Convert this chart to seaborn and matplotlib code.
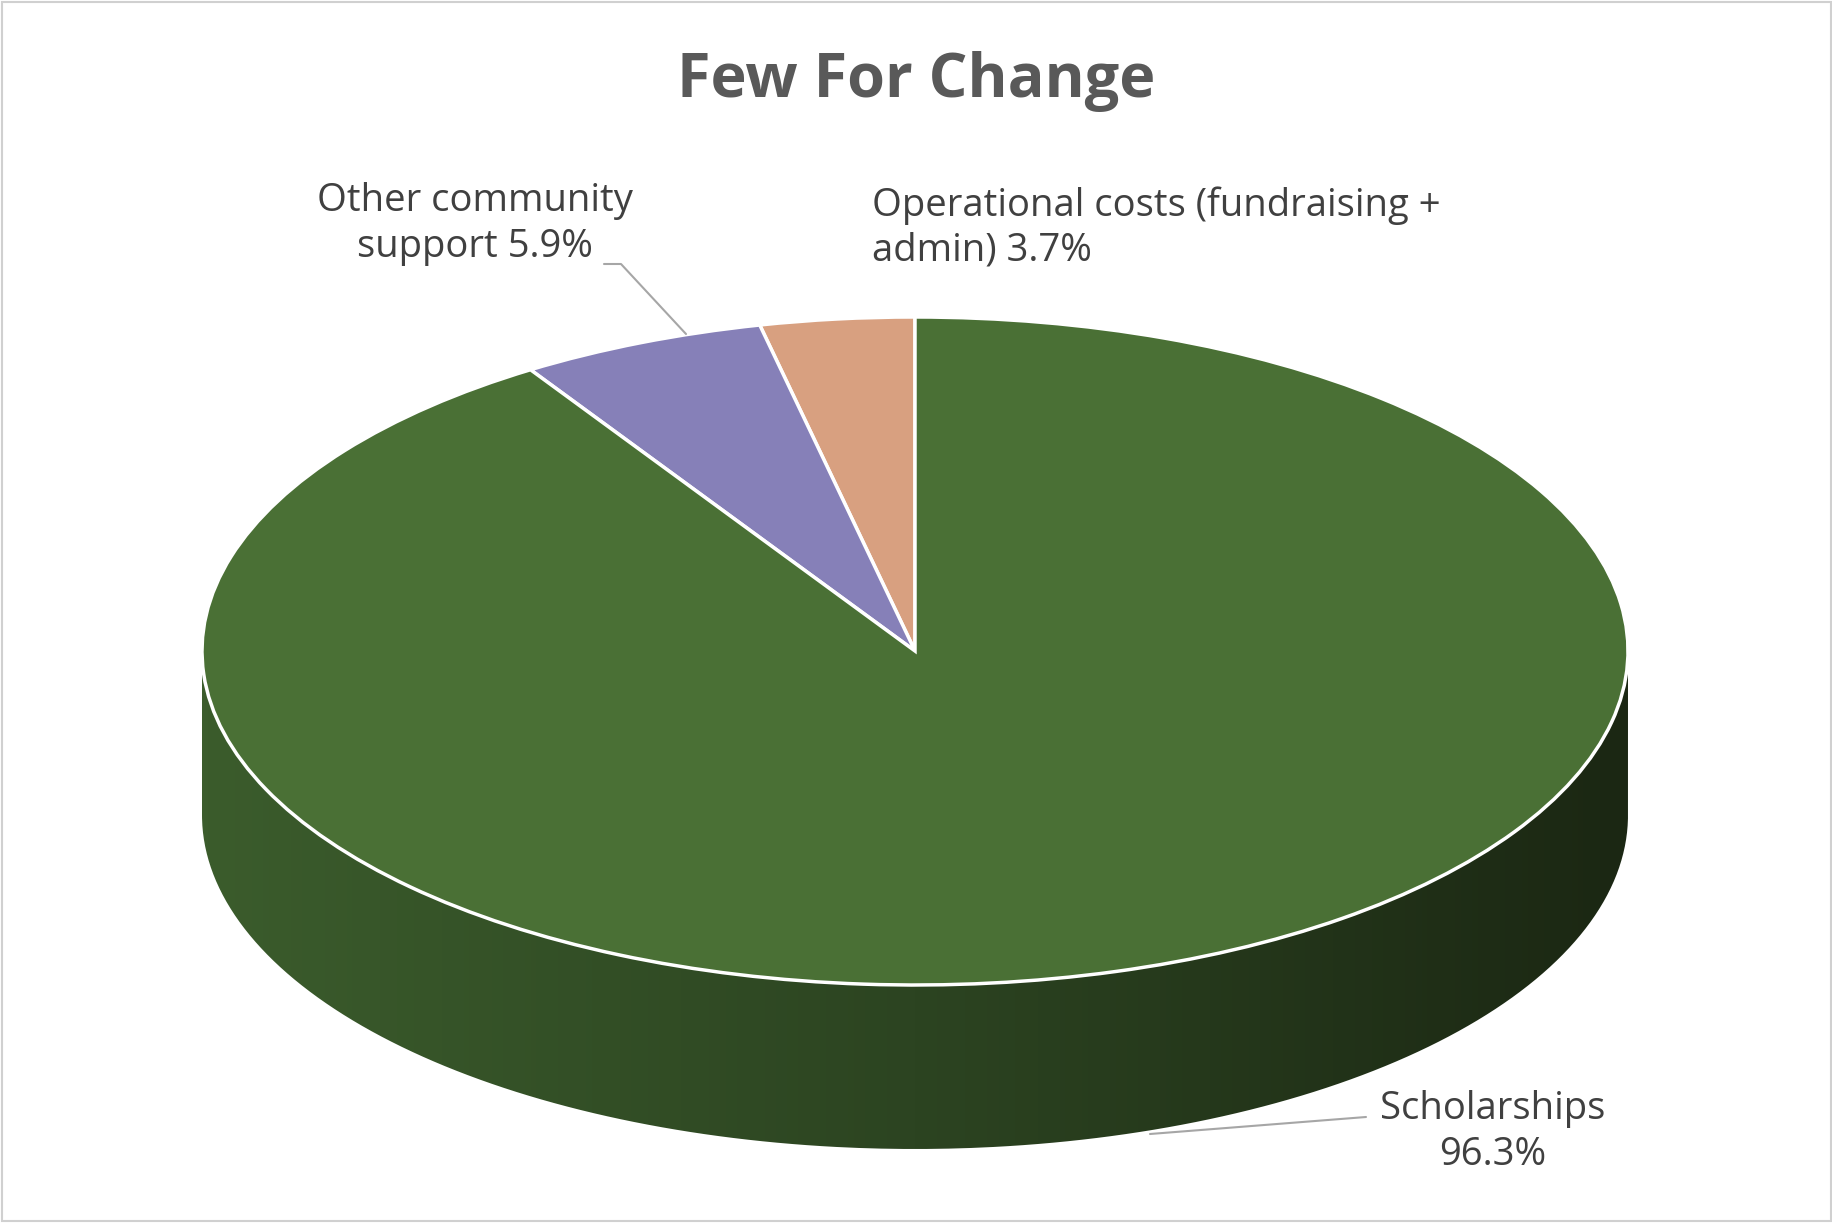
import numpy as np
import matplotlib
matplotlib.use("Agg")
import matplotlib.pyplot as plt
import seaborn as sns
from matplotlib.path import Path
from matplotlib.patches import PathPatch, Rectangle

sns.set_theme(style="white")
plt.rcParams['font.family'] = ['Open Sans', 'DejaVu Sans']

title = "Few For Change"
categories = ["Operational costs (fundraising +\nadmin)", "Other community\nsupport", "Scholarships"]
values = [3.7, 5.9, 96.3]
colors = ["#d8a080", "#8680b8", "#4a7035"]

W, H = 1833, 1223
cx, cy, rx, ry, depth = 915, 651, 713, 334, 164
fig = plt.figure(figsize=(W/100, H/100), dpi=100)
ax = fig.add_axes([0, 0, 1, 1])
ax.set_axis_off()
d = depth/ry

t = np.linspace(np.pi, 2*np.pi, 300)
xs = np.concatenate([np.cos(t), np.cos(t[::-1])])
ys = np.concatenate([np.sin(t), np.sin(t[::-1]) - d])
wall = PathPatch(Path(np.column_stack([xs, ys])), facecolor="none", edgecolor="none")
ax.add_patch(wall)
grad = np.linspace(0, 1, 256).reshape(1, -1)
cmap = matplotlib.colors.LinearSegmentedColormap.from_list("g", ["#3b5c2c", "#2c4421", "#1b2713"])
im = ax.imshow(grad, extent=(-1, 1, -1 - d, 0), cmap=cmap, aspect="auto", zorder=1)
im.set_clip_path(wall)

wedges, _ = ax.pie(values, colors=colors, startangle=90, counterclock=True,
                   wedgeprops=dict(edgecolor="white", linewidth=2.5))
for w in wedges:
    w.set_zorder(2)
ax.set_aspect("auto")
ax.set_xlim(-cx/rx, (W-cx)/rx)
ax.set_ylim(-(H-cy)/ry, cy/ry)

ov = fig.add_axes([0, 0, 1, 1])
ov.set_axis_off()
ov.patch.set_alpha(0)
ov.set_xlim(0, W); ov.set_ylim(H, 0)
ov.add_patch(Rectangle((2, 2), W-4, H-4, fill=False, edgecolor="#d0d0d0", lw=1.5))
ov.text(W/2, 82, title, ha="center", va="center", fontsize=44, fontweight="bold", color="#595959")
tc = "#404040"
fs = 27.5
ov.text(872, 228, f"{categories[0]} {values[0]}%", ha="left", va="center", fontsize=fs, color=tc, linespacing=1.25)
ov.text(633, 224, f"{categories[1]} {values[1]}%", ha="right", va="center", fontsize=fs, color=tc, linespacing=1.25, multialignment="center")
ov.text(1493, 1132, f"{categories[2]}\n{values[2]}%", ha="center", va="center", fontsize=fs, color=tc, linespacing=1.25)
lc = "#a6a6a6"
ov.plot([604, 621, 686], [264, 264, 334], color=lc, lw=1.5)
ov.plot([1366, 1150], [1117, 1134], color=lc, lw=1.5)

fig.savefig("out.png", dpi=100)
